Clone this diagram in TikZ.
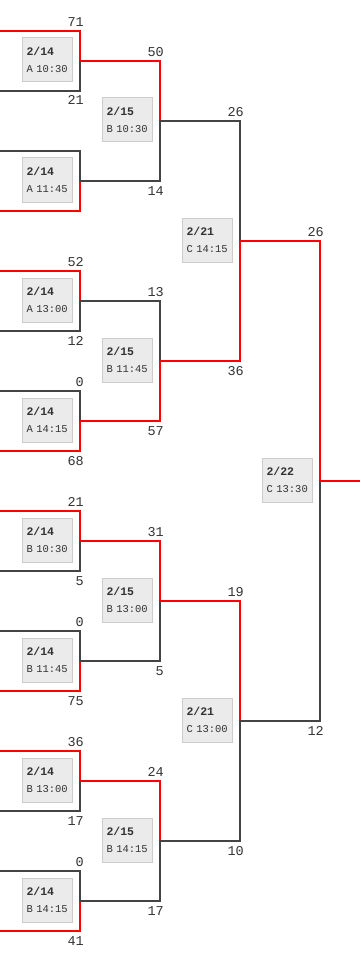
\documentclass[tikz,border=0pt]{standalone}
\usepackage{fontspec}
\setmonofont{Liberation Mono}
\definecolor{wire}{HTML}{444444}
\definecolor{winner}{HTML}{FF0000}
\definecolor{cardfill}{HTML}{EBEBEB}
\definecolor{cardline}{HTML}{CCCCCC}
\definecolor{ink}{HTML}{333333}

\begin{document}
\begin{tikzpicture}[x=1pt,y=-1pt,
  win/.style={draw=winner,line width=2pt},
  lose/.style={draw=wire,line width=2pt},
  upper top/.style=win, upper bot/.style=lose,
  lower top/.style=lose, lower bot/.style=win,
  card/.style={draw=cardline,fill=cardfill,line width=1pt,minimum width=50pt,minimum height=44pt,
    inner xsep=2.5pt,text width=45pt,align=left,text=ink,font=\ttfamily\fontsize{10.5}{17}\selectfont},
  score/.style={inner sep=0pt,text=ink,font=\ttfamily\fontsize{13.5}{15}\selectfont}]
\useasboundingbox (0,0) rectangle (360,960);
% one match: name, x of right side, top y, bottom y, date, time, top score, bottom score, winner side
\def\bout#1#2#3#4#5#6#7#8#9{%
  \coordinate (#1-tl) at (#2-80,#3);
  \coordinate (#1-t) at (#2,#3);
  \coordinate (#1-bl) at (#2-80,#4);
  \coordinate (#1-b) at (#2,#4);
  \coordinate (#1-c) at (#2,{(#3+#4)/2});
  \draw[#9 top] (#1-tl) -- (#1-t) -- (#1-c);
  \draw[#9 bot] (#1-bl) -- (#1-b) -- (#1-c);
  \node[card] (#1) at (#2-32.5,{(#3+#4)/2-1})
    {\hspace*{1.5pt}{\fontsize{11.5}{17}\selectfont\textbf{#5}}\\\hspace*{1.5pt}#6};
  \if\relax\detokenize{#7}\relax\else
    \node[score,anchor=base east] (#1-ts) at (#2+4,#3-4.5) {#7};
    \node[score,anchor=base east] (#1-bs) at (#2+4,#4+14) {#8};
  \fi}
% round 1
\bout{a1}{80}{31}{91}{2/14}{A 10:30}{71}{21}{upper}
\bout{a2}{80}{151}{211}{2/14}{A 11:45}{}{}{lower}
\bout{a3}{80}{271}{331}{2/14}{A 13:00}{52}{12}{upper}
\bout{a4}{80}{391}{451}{2/14}{A 14:15}{0}{68}{lower}
\bout{a5}{80}{511}{571}{2/14}{B 10:30}{21}{5}{upper}
\bout{a6}{80}{631}{691}{2/14}{B 11:45}{0}{75}{lower}
\bout{a7}{80}{751}{811}{2/14}{B 13:00}{36}{17}{upper}
\bout{a8}{80}{871}{931}{2/14}{B 14:15}{0}{41}{lower}
% round 2
\bout{b1}{160}{61}{181}{2/15}{B 10:30}{50}{14}{upper}
\bout{b2}{160}{301}{421}{2/15}{B 11:45}{13}{57}{lower}
\bout{b3}{160}{541}{661}{2/15}{B 13:00}{31}{5}{upper}
\bout{b4}{160}{781}{901}{2/15}{B 14:15}{24}{17}{upper}
% round 3
\bout{c1}{240}{121}{361}{2/21}{C 14:15}{26}{36}{lower}
\bout{c2}{240}{601}{841}{2/21}{C 13:00}{19}{10}{upper}
% final
\bout{fin}{320}{241}{721}{2/22}{C 13:30}{26}{12}{upper}
\coordinate (champ) at (360,481);
\draw[win] (fin-c) -- (champ);
\end{tikzpicture}
\end{document}
